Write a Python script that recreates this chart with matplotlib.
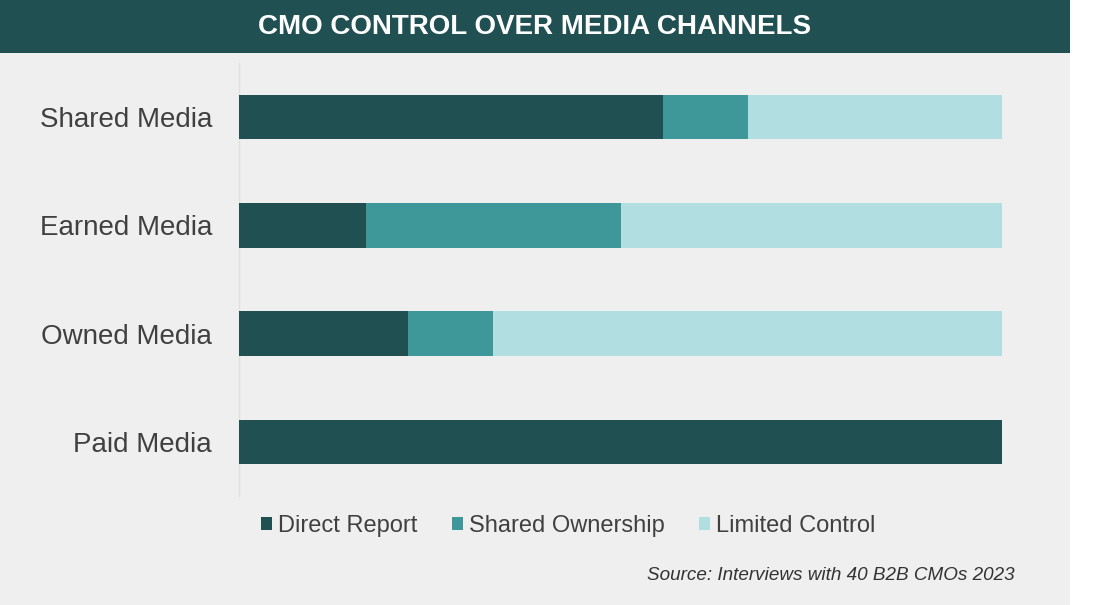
import matplotlib.pyplot as plt
import matplotlib.patches as mpatches
import numpy as np

plt.rcParams['font.family'] = ['Liberation Sans', 'DejaVu Sans']

# --------------------------
# Data (percent of CMOs)
# --------------------------
channels = ["Shared Media", "Earned Media", "Owned Media", "Paid Media"]
direct_report = [55.6, 16.7, 22.2, 100.0]
shared_ownership = [11.1, 33.3, 11.1, 0.0]
limited_control = [33.3, 50.0, 66.7, 0.0]
series_names = ["Direct Report", "Shared Ownership", "Limited Control"]

dark = "#215053"
mid = "#3e9799"
light = "#b1dee0"
bg = "#efefef"
text_col = "#404040"

fig = plt.figure(figsize=(11, 6.05), dpi=100)
fig.patch.set_facecolor("white")

# gray panel + title bar (behind the axes)
fig.patches.append(mpatches.Rectangle((0, 0), 1070 / 1100, 1, transform=fig.transFigure,
                                      facecolor=bg, edgecolor="none", zorder=-2))
fig.patches.append(mpatches.Rectangle((0, 1 - 53 / 605), 1070 / 1100, 53 / 605,
                                      transform=fig.transFigure, facecolor=dark,
                                      edgecolor="none", zorder=-1))
fig.text(535 / 1100, 1 - 27 / 605, "CMO CONTROL OVER MEDIA CHANNELS", color="white",
         fontsize=20, fontweight="bold", ha="center", va="center")

ax = fig.add_axes([239 / 1100, 1 - 496 / 605, 763 / 1100, 433 / 605])
ax.set_facecolor("none")

y = np.arange(len(channels))
h = 0.41
d = np.array(direct_report)
s = np.array(shared_ownership)
l = np.array(limited_control)
b1 = ax.barh(y, d, height=h, color=dark, label=series_names[0], zorder=3)
b2 = ax.barh(y, s, left=d, height=h, color=mid, label=series_names[1], zorder=3)
b3 = ax.barh(y, l, left=d + s, height=h, color=light, label=series_names[2], zorder=3)

ax.set_xlim(0, 100)
ax.set_ylim(len(channels) - 0.5, -0.5)
ax.set_yticks(y)
ax.set_yticklabels(channels, fontsize=20, color=text_col)
ax.tick_params(axis="y", length=0, pad=19.5)
ax.set_xticks([])
for side in ["top", "right", "bottom"]:
    ax.spines[side].set_visible(False)
ax.spines["left"].set_color("#e0e0e0")
ax.spines["left"].set_linewidth(1)
ax.spines["left"].set_zorder(1)

leg = fig.legend(handles=[b1, b2, b3], loc="center",
                 bbox_to_anchor=(568 / 1100, 1 - 526 / 605), ncol=3, frameon=False,
                 fontsize=17, handlelength=0.47, handleheight=0.47,
                 handletextpad=0.25, columnspacing=1.45, borderaxespad=0)
for t in leg.get_texts():
    t.set_color(text_col)

fig.text(1015 / 1100, 1 - 576 / 605, "Source: Interviews with 40 B2B CMOs 2023",
         fontsize=13.6, style="italic", color="#333333", ha="right", va="center")

fig.savefig("out.png", dpi=100, facecolor=fig.get_facecolor())
